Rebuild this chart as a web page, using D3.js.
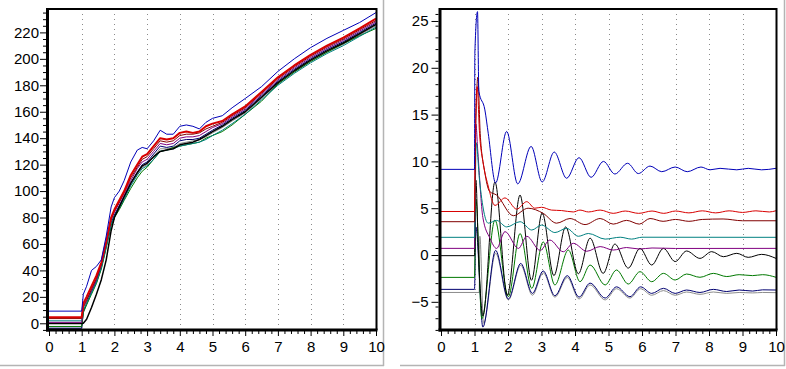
<!DOCTYPE html>
<html><head><meta charset="utf-8">
<script src="https://cdn.jsdelivr.net/npm/d3@7"></script>
<style>
body{margin:0;background:#fff}
svg{display:block}
text{font-family:Arial,"Liberation Sans",sans-serif;font-size:15px;fill:#000}
</style>
</head><body>
<svg id="c" width="786" height="369"></svg>
<script>
// ---------- data ----------
const xTicks = [0,1,2,3,4,5,6,7,8,9,10];
const leftYTicks = [0,20,40,60,80,100,120,140,160,180,200,220];
const rightYTicks = [-5,0,5,10,15,20,25];

const leftTime = [0,1,1.05,1.15,1.3,1.45,1.6,1.75,1.9,2.0,2.15,2.3,2.5,2.7,2.85,3.0,3.2,3.4,3.6,3.8,4.0,4.2,4.4,4.6,4.8,5.0,5.3,5.6,6.0,6.5,7.0,7.5,8.0,8.5,9.0,9.5,10];
const leftGrey    = [-4.0,-4.0,9,14,23,31,42,58,75,81,88,95,105,113,118,120,126,132,132,133,136,137,138,139,141,144,148,153,159,170,181,190,198,205,211,218,225];
const leftNavy    = [-3.67,-3.67,9,15,24,32,43,59,76,82,89,96,106,114,120,122,128,134,133,134,138,139,139,140,143,146,150,155,161,172,183,192,200,207,213,220,227];
const leftGreen   = [-2.39,-2.39,8,14,22,30,41,57,74,80,86,93,102,110,115,118,124,130,131,133,134,135,136,137,140,142,145,150,158,168,181,190,198,205,211.5,217.5,223];
const leftBlack   = [-0.07,-0.07,0,3,12,22,33,48,70,80,88,96,106,114,119,121,126,130,131,132,135,136,137,139,142,145,149,154,160,171,182,191,199,206,212,219,226];
const leftTeal    = [1.89,1.89,10,15,23,31,42,58,75,81,87,94,104,112,117,119,124,130,131,132,134,135,136,137,139,142,146,151,158,169,180,189,197,204,210,217,224];
const leftPurple  = [0.71,0.71,13,18,25,33,44,60,78,84,91,98,108,117,122,124,130,136,135,136,140,141,141,142,145,148,151,156,162,173,184,193,201,208,214,221,228];
const leftDarkRed = [3.56,3.56,12,17,26,34,45,61,79,85,92,99,110,118,124,126,132,138,137,138,142,143,143,144,147,149,152,157,163,174,185,194,202,209,215,222,229];
const leftRed     = [4.65,4.65,15,20,28,36,46,62,80,86,93,100,112,120,126,128,134,140,139,140,144,145,144,145,149,151,153,158,164,175,186,195,203,210,216,223,230.5];
const leftBlue    = [9.2,9.2,22,28,40,43,48,66,88,95,100,108,122,131,133,132,138,146,143,143,149,150,149,147,152,155,157,163,170,179,190.5,200,208.5,215.5,221.5,227.5,235];

const rightGrey = [[0,-4.0],[1.14,-4.0],[1.16,2],[1.27,-7.3],[1.63,0.2],[2.01,-4.8],[2.38,-1.1],[2.73,-4.3],[3.05,-1.9],[3.4,-4.5],[3.77,-2.4],[4.12,-4.7],[4.45,-3.2],[4.9,-4.8],[5.24,-3.6],[5.64,-4.6],[5.96,-3.6],[6.29,-4.3],[6.64,-3.8],[6.99,-4.3],[7.33,-3.95],[7.73,-4.2],[8.13,-3.95],[8.53,-4.1],[8.9,-4.0],[9.3,-4.05],[9.6,-4.0],[10,-4.02]];
const rightNavy = [[0,-3.67],[1.0,-3.67],[1.04,3],[1.25,-7.7],[1.63,0.5],[2.01,-4.7],[2.38,-0.9],[2.73,-4.1],[3.05,-1.7],[3.4,-4.35],[3.77,-2.2],[4.12,-4.5],[4.45,-3.0],[4.9,-4.6],[5.24,-3.4],[5.64,-4.45],[5.96,-3.4],[6.29,-4.1],[6.64,-3.56],[6.99,-4.1],[7.33,-3.74],[7.73,-4.0],[8.13,-3.67],[8.53,-3.9],[8.9,-3.74],[9.3,-3.85],[9.6,-3.72],[10,-3.74]];
const rightGreen = [[0,-2.39],[1.0,-2.39],[1.04,6],[1.22,-6.8],[1.61,3.74],[2.01,-4.45],[2.36,2.3],[2.71,-3.56],[3.05,1.4],[3.4,-3.2],[3.8,0.53],[4.15,-2.85],[4.45,-1.07],[4.9,-3.2],[5.24,-1.6],[5.59,-3.1],[5.94,-1.78],[6.29,-2.85],[6.64,-1.96],[6.99,-2.67],[7.33,-2.03],[7.73,-2.38],[8.13,-1.96],[8.53,-2.3],[8.9,-2.1],[9.3,-2.2],[9.6,-2.1],[10,-2.38]];
const rightBlack = [[0,-0.07],[1.0,-0.07],[1.04,8],[1.12,0],[1.25,-6.5],[1.61,7.8],[1.98,-4.3],[2.36,6.4],[2.7,-2.7],[3.02,4.5],[3.37,-2.2],[3.72,3.0],[4.1,-2.0],[4.45,1.8],[4.84,-1.96],[5.19,1.17],[5.59,-1.4],[5.94,0.71],[6.29,-1.07],[6.64,0.71],[6.99,-0.7],[7.33,0.43],[7.73,-0.36],[8.08,0.36],[8.43,-0.18],[8.83,0.18],[9.17,-0.25],[9.57,0.07],[10,-0.36]];
const rightPurple = [[0,0.71],[1.0,0.71],[1.04,14],[1.1,11],[1.25,4],[1.46,1.8],[1.66,0.7],[1.91,2.5],[2.31,0.7],[2.56,2.0],[2.96,0.5],[3.25,1.6],[3.65,0.35],[3.95,1.25],[4.35,0.4],[4.75,0.9],[5.14,0.53],[5.54,0.8],[5.92,0.64],[6.3,0.75],[7.0,0.7],[10,0.71]];
const rightTeal = [[0,1.89],[1.0,1.89],[1.05,12],[1.15,8],[1.41,3.4],[1.66,3.7],[1.96,3.0],[2.36,3.56],[2.71,2.67],[3.0,3.2],[3.4,2.4],[3.75,2.85],[4.1,2.0],[4.4,2.3],[4.9,1.7],[5.35,1.9],[5.69,1.7],[6.0,1.9],[10,1.89]];
const rightDarkRed = [[0,3.56],[1.0,3.56],[1.03,12],[1.1,19],[1.17,13],[1.3,9],[1.45,6.8],[1.66,6.4],[2.16,4.2],[2.6,5.0],[3.05,4.45],[3.45,3.4],[3.85,3.9],[4.3,3.25],[4.75,3.9],[5.14,3.3],[5.54,3.7],[5.92,3.3],[6.24,3.9],[6.63,3.6],[7.0,3.8],[7.4,3.6],[7.8,3.8],[8.42,3.85],[9.0,3.66],[10,3.66]];
const rightRed = [[0,4.65],[1.0,4.65],[1.02,12],[1.08,18],[1.15,13],[1.25,10],[1.4,7.5],[1.61,5.3],[1.91,6.1],[2.26,4.9],[2.56,5.7],[2.8,5.0],[3.0,5.1],[3.3,4.8],[3.6,4.75],[3.95,4.6],[4.15,4.8],[4.4,4.6],[4.75,4.8],[5.14,4.45],[5.5,4.7],[5.9,4.45],[6.3,4.7],[6.65,4.45],[7.0,4.7],[7.4,4.5],[7.8,4.72],[8.2,4.5],[8.6,4.72],[9.0,4.55],[9.4,4.72],[9.8,4.6],[10,4.73]];
const rightBlue = [[0,9.15],[1.0,9.15],[1.01,21.5],[1.09,26.0],[1.13,17.5],[1.31,15.5],[1.41,13.0],[1.63,7.7],[1.96,13.2],[2.29,7.6],[2.69,11.6],[3.02,7.8],[3.38,11.0],[3.75,8.2],[4.12,10.4],[4.48,8.3],[4.85,10.0],[5.19,8.65],[5.57,9.8],[5.89,8.7],[6.24,9.5],[6.59,8.9],[6.99,9.4],[7.35,8.9],[7.76,9.4],[8.03,9.1],[8.33,9.26],[8.83,9.1],[9.17,9.26],[9.57,9.1],[10,9.26]];

const seriesColors = {grey:"#8c8c8c", navy:"#000070", green:"#007800", black:"#000000", teal:"#008080", purple:"#800080", darkred:"#800000", red:"#d80000", blue:"#0000b8"};

// ---------- drawing ----------
const svg = d3.select("#c");

// panel frames (grey shadow lines)
const frame = svg.append("g").attr("stroke","#b4b4b4").attr("stroke-width",1.5);
frame.append("line").attr("x1",383.5).attr("x2",383.5).attr("y1",0).attr("y2",366);
frame.append("line").attr("x1",0).attr("x2",384).attr("y1",365.5).attr("y2",365.5);
frame.append("line").attr("x1",400).attr("x2",785).attr("y1",365.5).attr("y2",365.5);
frame.append("line").attr("x1",784.5).attr("x2",784.5).attr("y1",0).attr("y2",366);

function drawChart(cfg){
  const g = svg.append("g");
  const x = d3.scaleLinear().domain([0,10]).range([cfg.x0, cfg.x1]);
  const y = d3.scaleLinear().domain(cfg.yDomain).range([cfg.yBottom, cfg.yTop]);
  const clipId = "clip" + cfg.id;
  svg.append("clipPath").attr("id", clipId).append("rect")
     .attr("x", cfg.axisX).attr("y", cfg.yTop).attr("width", cfg.x1 - cfg.axisX).attr("height", cfg.yBottom - cfg.yTop);

  // vertical dotted grid
  g.append("g").selectAll("line").data(xTicks.filter(d => d > 0 && d < 10)).join("line")
    .attr("x1", d => Math.round(x(d)) + 0.5).attr("x2", d => Math.round(x(d)) + 0.5)
    .attr("y1", cfg.yTop).attr("y2", cfg.yBottom)
    .attr("stroke", "#8a8a8a").attr("stroke-width", 1).attr("stroke-dasharray", "1,4");

  // lines
  const gl = g.append("g").attr("clip-path", `url(#${clipId})`);
  const line = d3.line().x(d => x(d[0])).y(d => y(d[1])).curve(cfg.curve);
  cfg.series.forEach(s => {
    gl.append("path").datum(s.data).attr("d", line)
      .attr("fill", "none").attr("stroke", seriesColors[s.key])
      .attr("stroke-width", s.w || 1).attr("stroke-linejoin", "round");
  });

  // border top / right
  g.append("line").attr("x1", cfg.axisX).attr("x2", cfg.x1 + 1).attr("y1", cfg.yTop).attr("y2", cfg.yTop).attr("stroke", "#000").attr("stroke-width", 2);
  g.append("line").attr("x1", cfg.x1 + 0.5).attr("x2", cfg.x1 + 0.5).attr("y1", cfg.yTop - 1).attr("y2", cfg.yBottom).attr("stroke", "#000").attr("stroke-width", 2);

  // x axis ticks
  const xMinor = d3.range(0, 50).map(i => i * 0.2).filter(v => Math.abs(v - Math.round(v)) > 1e-6);
  const gxMin = g.append("g").attr("transform", `translate(0,${cfg.yBottom})`)
    .call(d3.axisBottom(x).tickValues(xMinor).tickSize(4).tickFormat(""));
  const gx = g.append("g").attr("transform", `translate(0,${cfg.yBottom})`)
    .call(d3.axisBottom(x).tickValues(xTicks).tickSize(6).tickPadding(5).tickFormat(d3.format("d")));
  [gx, gxMin].forEach(a => { a.select(".domain").remove(); a.selectAll("line").attr("stroke", "#000"); a.selectAll("text").attr("font-size", null).attr("font-family", null); });
  gx.attr("font-size", null).attr("font-family", null);
  gxMin.attr("font-size", null).attr("font-family", null);

  // y axis ticks
  const gyMin = g.append("g").attr("transform", `translate(${cfg.axisX - 1.5},0)`)
    .call(d3.axisLeft(y).tickValues(cfg.yMinor).tickSize(3).tickFormat(""));
  const gy = g.append("g").attr("transform", `translate(${cfg.axisX - 1.5},0)`)
    .call(d3.axisLeft(y).tickValues(cfg.yTicks).tickSize(cfg.yTickLen).tickPadding(cfg.yPad).tickFormat(d3.format("d")));
  [gy, gyMin].forEach(a => { a.select(".domain").remove(); a.selectAll("line").attr("stroke", "#000"); a.attr("font-size", null).attr("font-family", null); });

  // thick axes
  g.append("line").attr("x1", cfg.axisX).attr("x2", cfg.axisX).attr("y1", cfg.yTop - 1).attr("y2", cfg.yBottom + 1.5).attr("stroke", "#000").attr("stroke-width", 3);
  g.append("line").attr("x1", cfg.axisX - 1.5).attr("x2", cfg.x1 + 1.5).attr("y1", cfg.yBottom).attr("y2", cfg.yBottom).attr("stroke", "#000").attr("stroke-width", 3);
}

const lMinor = d3.range(-5, 238, 5).filter(v => v % 20 !== 0);
const rMinor = d3.range(-8, 26.3, 1.25).map(v => +v.toFixed(2)).filter(v => Math.abs(v / 5 - Math.round(v / 5)) > 1e-6);

drawChart({
  id: "L", x0: 49, x1: 376, axisX: 47.5, yTop: 9, yBottom: 330,
  yDomain: [-5.07, 237.7], yTicks: leftYTicks, yMinor: lMinor, yTickLen: 6, yPad: 1,
  curve: d3.curveLinear,
  series: [
    {key:"grey", data: leftTime.map((t,i)=>[t,leftGrey[i]])},
    {key:"navy", data: leftTime.map((t,i)=>[t,leftNavy[i]])},
    {key:"green", data: leftTime.map((t,i)=>[t,leftGreen[i]])},
    {key:"teal", data: leftTime.map((t,i)=>[t,leftTeal[i]])},
    {key:"black", data: leftTime.map((t,i)=>[t,leftBlack[i]]), w:1.5},
    {key:"purple", data: leftTime.map((t,i)=>[t,leftPurple[i]])},
    {key:"darkred", data: leftTime.map((t,i)=>[t,leftDarkRed[i]])},
    {key:"red", data: leftTime.map((t,i)=>[t,leftRed[i]]), w:2},
    {key:"blue", data: leftTime.map((t,i)=>[t,leftBlue[i]])}
  ]
});

drawChart({
  id: "R", x0: 441, x1: 776, axisX: 440, yTop: 9, yBottom: 330,
  yDomain: [-8.01, 26.28], yTicks: rightYTicks, yMinor: rMinor, yTickLen: 7, yPad: 3,
  curve: d3.curveMonotoneX,
  series: [
    {key:"grey", data: rightGrey},
    {key:"navy", data: rightNavy},
    {key:"green", data: rightGreen},
    {key:"black", data: rightBlack},
    {key:"purple", data: rightPurple},
    {key:"teal", data: rightTeal},
    {key:"darkred", data: rightDarkRed},
    {key:"red", data: rightRed},
    {key:"blue", data: rightBlue}
  ]
});
</script>
</body></html>
